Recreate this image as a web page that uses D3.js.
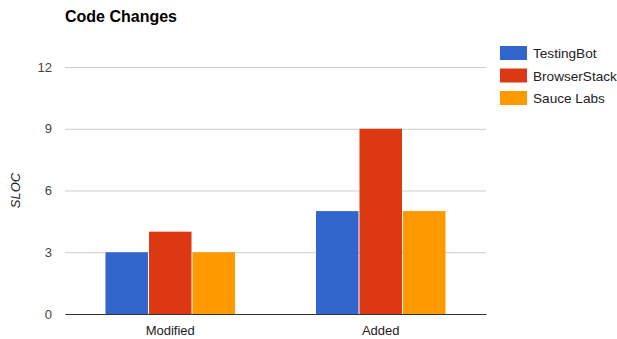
<!DOCTYPE html>
<html>
<head>
<meta charset="utf-8">
<script src="https://cdn.jsdelivr.net/npm/d3@7"></script>
<style>
    body { margin: 0; background: #fff; font-family: "Liberation Sans", Arial, sans-serif; overflow: hidden; }
</style>
</head>
<body>
<div id="chart"></div>
<script>
// Chart data
const categories = ["Modified", "Added"];
const seriesNames = ["TestingBot", "BrowserStack", "Sauce Labs"];
const testingBot = [3, 5];
const browserStack = [4, 9];
const sauceLabs = [3, 5];
const yTicks = [0, 3, 6, 9, 12];
const colors = ["#3366cc", "#dc3912", "#ff9900"];

const seriesValues = [testingBot, browserStack, sauceLabs];
const rows = categories.map((c, i) => {
    const r = { category: c };
    seriesNames.forEach((s, j) => r[s] = seriesValues[j][i]);
    return r;
});

const W = 617, H = 339;
const margin = { top: 67, right: 131, bottom: 25, left: 65 };
const width = W - margin.left - margin.right;
const height = H - margin.top - margin.bottom;

const svgRoot = d3.select("#chart").append("svg")
    .attr("width", W).attr("height", H)
    .style("font-family", "'Liberation Sans', Arial, sans-serif");

const svg = svgRoot.append("g").attr("transform", `translate(${margin.left},${margin.top})`);

const x0 = d3.scaleBand().domain(categories).range([0, width]).paddingInner(0.38).paddingOuter(0.19);
const x1 = d3.scaleBand().domain(seriesNames).range([0, x0.bandwidth()]).padding(0);
const y = d3.scaleLinear().domain([0, 12]).range([height, 0]);
const color = d3.scaleOrdinal().domain(seriesNames).range(colors);

// Gridlines + y labels
svg.append("g")
    .call(d3.axisLeft(y).tickValues(yTicks).tickSize(0).tickPadding(13))
    .call(g => g.select(".domain").remove())
    .call(g => g.selectAll(".tick text").attr("font-size", 13).attr("fill", "#444").attr("font-family", "'Liberation Sans', Arial, sans-serif"))
    .call(g => g.selectAll(".tick line").attr("x2", width).attr("stroke", "#ccc"));

// Bars
const groups = svg.selectAll(".group").data(rows).enter().append("g")
    .attr("class", "group")
    .attr("transform", d => `translate(${x0(d.category)},0)`);

groups.selectAll("rect").data(d => seriesNames.map(s => ({ key: s, value: d[s] })))
    .enter().append("rect")
    .attr("x", d => x1(d.key) + 0.5)
    .attr("y", d => y(d.value))
    .attr("width", x1.bandwidth() - 1)
    .attr("height", d => height - y(d.value))
    .attr("fill", d => color(d.key));

// Baseline + x labels
svg.append("g")
    .attr("transform", `translate(0,${height})`)
    .call(d3.axisBottom(x0).tickSize(0).tickPadding(12))
    .call(g => g.select(".domain").attr("stroke", "#333"))
    .call(g => g.selectAll(".tick text").attr("font-size", 13).attr("fill", "#222").attr("font-family", "'Liberation Sans', Arial, sans-serif"));

// Title
svgRoot.append("text")
    .attr("x", 65).attr("y", 22)
    .attr("font-size", 16).attr("font-weight", "bold").attr("fill", "#000")
    .text("Code Changes");

// Y axis title
svgRoot.append("text")
    .attr("transform", `translate(20,${margin.top + height / 2}) rotate(-90)`)
    .attr("text-anchor", "middle")
    .attr("font-size", 13).attr("font-style", "italic").attr("fill", "#222")
    .text("SLOC");

// Legend
const legend = svgRoot.append("g").attr("transform", "translate(500,46)");
seriesNames.forEach((s, i) => {
    const row = legend.append("g").attr("transform", `translate(0,${i * 22.5})`);
    row.append("rect").attr("width", 27).attr("height", 14).attr("fill", color(s));
    row.append("text").attr("x", 33).attr("y", 12).attr("font-size", 13.6).attr("fill", "#222").text(s);
});
</script>
</body>
</html>
